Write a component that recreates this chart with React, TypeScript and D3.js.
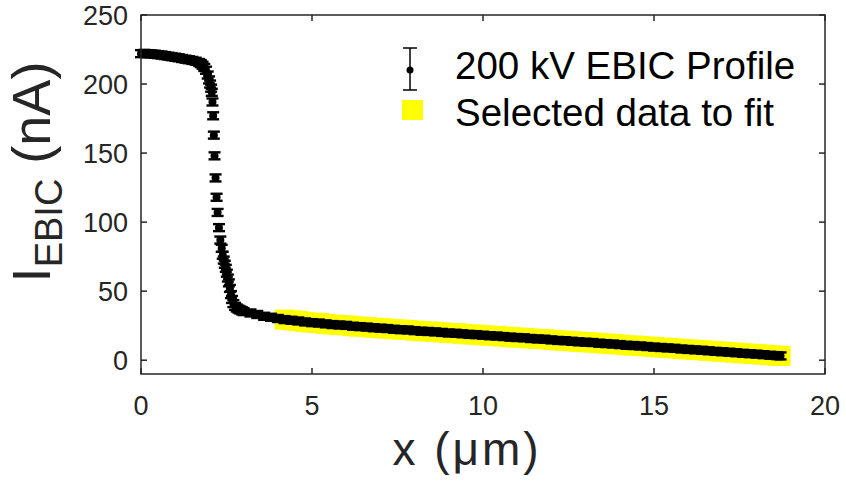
import React from "react";
import * as d3 from "d3";

// EBIC profile (x in µm, current in nA)
const profileX = [
  0, 0.1, 0.2, 0.3, 0.4, 0.5, 0.6, 0.7, 0.8, 0.9, 1.0, 1.1, 1.2, 1.3, 1.4, 1.5, 1.6, 1.7, 1.75, 1.8, 1.85, 1.9, 1.95,
  1.99, 2.02, 2.05, 2.07, 2.09, 2.11, 2.13, 2.15, 2.18, 2.21, 2.24, 2.28, 2.32, 2.36, 2.39, 2.42, 2.45, 2.48, 2.51, 2.54, 2.57,
  2.6, 2.63, 2.66, 2.7, 2.75, 2.8, 2.85, 2.9, 2.95, 3.0,
  3.2, 3.4, 3.6, 3.8, 4.0, 4.2, 4.4, 4.6, 4.8, 5.0, 5.2, 5.4, 5.6, 5.8, 6.0, 6.2, 6.4, 6.6, 6.8, 7.0,
  7.2, 7.4, 7.6, 7.8, 8.0, 8.2, 8.4, 8.6, 8.8, 9.0, 9.2, 9.4, 9.6, 9.8, 10.0, 10.2, 10.4, 10.6, 10.8, 11.0,
  11.2, 11.4, 11.6, 11.8, 12.0, 12.2, 12.4, 12.6, 12.8, 13.0, 13.2, 13.4, 13.6, 13.8, 14.0, 14.2, 14.4, 14.6, 14.8, 15.0,
  15.2, 15.4, 15.6, 15.8, 16.0, 16.2, 16.4, 16.6, 16.8, 17.0, 17.2, 17.4, 17.6, 17.8, 18.0, 18.2, 18.4, 18.6, 18.7,
];
const profileI = [
  222, 222.2, 222, 221.8, 221.6, 221.3, 221, 220.6, 220.2, 219.8, 219.4, 219, 218.5, 218, 217.6, 217.1, 216.5, 215.6, 214.8, 213.6, 212, 210, 206.5,
  203, 200, 197, 194, 187, 177, 163, 148, 132, 118, 107, 96, 87, 81, 76, 72.5, 69.5, 66.5, 63, 59.5, 56,
  52, 47.5, 44, 41, 39, 37.8, 37, 36.4, 35.8, 35.2,
  34.2, 33.1, 31.8, 31.1, 30.2, 29.4, 28.9, 28.4, 27.7, 27.2, 26.9, 26.3, 25.8, 25.5, 25.2, 24.6, 24.3, 24.0, 23.5, 23.2,
  22.9, 22.4, 22.1, 21.9, 21.4, 21.0, 20.8, 20.5, 20.1, 19.7, 19.5, 19.1, 18.7, 18.5, 18.1, 17.7, 17.5, 17.1, 16.7, 16.4,
  16.2, 15.7, 15.4, 15.2, 14.7, 14.3, 14.1, 13.7, 13.3, 13.0, 12.8, 12.3, 12.0, 11.7, 11.3, 10.8, 10.6, 10.3, 9.9, 9.5,
  9.2, 8.9, 8.6, 8.1, 7.8, 7.5, 7.2, 6.8, 6.4, 6.1, 5.8, 5.4, 5.0, 4.7, 4.4, 4.0, 3.6, 3.3, 3.1,
];
const fitStartX = 4.2;

const xTicks = [0, 5, 10, 15, 20];
const yTicks = [0, 50, 100, 150, 200, 250];
const legendLabels = ["200 kV EBIC Profile", "Selected data to fit"];

const W = 846;
const H = 486;
const L = 141, R = 825, T = 15, B = 374;
const axisColor = "#262626";
const font = "'Liberation Sans', Arial, Helvetica, sans-serif";

export default function App() {
  const x = d3.scaleLinear().domain([0, 20]).range([L, R]);
  const y = d3.scaleLinear().domain([-10, 250]).range([B, T]);
  const pts = profileX.map((v, i) => ({ x: v, y: profileI[i] }));
  const fitPts = pts.filter((p) => p.x >= fitStartX);
  const tl = 6;
  const sq = 20;
  const eb = 3.5;
  const cap = 6;

  return (
    <svg width={W} height={H} style={{ position: "fixed", left: 0, top: 0, background: "#fff" }} fontFamily={font}>
      <rect x={0} y={0} width={W} height={H} fill="#fff" />
      {/* selected data (yellow squares) */}
      <g fill="#ffff00">
        {fitPts.map((p, i) => (
          <rect key={i} x={x(p.x) - sq / 2} y={y(p.y) - sq / 2} width={sq} height={sq} />
        ))}
      </g>
      {/* error bar markers */}
      <g stroke="#000" strokeWidth={2.4} fill="#000">
        {pts.map((p, i) => {
          const cx = x(p.x), cy = y(p.y);
          return (
            <g key={i}>
              <line x1={cx} x2={cx} y1={cy - eb} y2={cy + eb} />
              <line x1={cx - cap} x2={cx + cap} y1={cy - eb} y2={cy - eb} />
              <line x1={cx - cap} x2={cx + cap} y1={cy + eb} y2={cy + eb} />
              <circle cx={cx} cy={cy} r={4} stroke="none" />
            </g>
          );
        })}
      </g>
      {/* axes box */}
      <rect x={L} y={T} width={R - L} height={B - T} fill="none" stroke={axisColor} strokeWidth={1.5} />
      <g stroke={axisColor} strokeWidth={1.5}>
        {xTicks.map((t) => (
          <g key={"xt" + t}>
            <line x1={x(t)} x2={x(t)} y1={B} y2={B - tl} />
            <line x1={x(t)} x2={x(t)} y1={T} y2={T + tl} />
          </g>
        ))}
        {yTicks.map((t) => (
          <g key={"yt" + t}>
            <line x1={L} x2={L + tl} y1={y(t)} y2={y(t)} />
            <line x1={R} x2={R - tl} y1={y(t)} y2={y(t)} />
          </g>
        ))}
      </g>
      <g fill={axisColor} fontSize={27}>
        {xTicks.map((t) => (
          <text key={"xl" + t} x={x(t)} y={415} textAnchor="middle">{t}</text>
        ))}
        {yTicks.map((t) => (
          <text key={"yl" + t} x={128} y={y(t)} dy="0.36em" textAnchor="end">{t}</text>
        ))}
      </g>
      {/* axis labels */}
      <text x={467} y={465} textAnchor="middle" fontSize={46} letterSpacing={3} fill={axisColor}>x (μm)</text>
      <text transform={`translate(50, 172) rotate(-90)`} textAnchor="middle" fill={axisColor} fontSize={54}>
        <tspan>I</tspan>
        <tspan fontSize={38} dy={12}>EBIC</tspan>
        <tspan dy={-12}> (nA)</tspan>
      </text>
      {/* legend */}
      <g>
        <g stroke="#000" strokeWidth={1.5}>
          <line x1={410} x2={410} y1={48} y2={90} />
          <line x1={403} x2={417} y1={48} y2={48} />
          <line x1={403} x2={417} y1={90} y2={90} />
          <circle cx={410} cy={70} r={3.5} fill="#000" stroke="none" />
        </g>
        <rect x={402} y={100} width={21} height={20} fill="#ffff00" />
        <text x={455} y={79} fontSize={38.5} fill="#000">{legendLabels[0]}</text>
        <text x={455} y={126} fontSize={38.5} fill="#000">{legendLabels[1]}</text>
      </g>
    </svg>
  );
}
